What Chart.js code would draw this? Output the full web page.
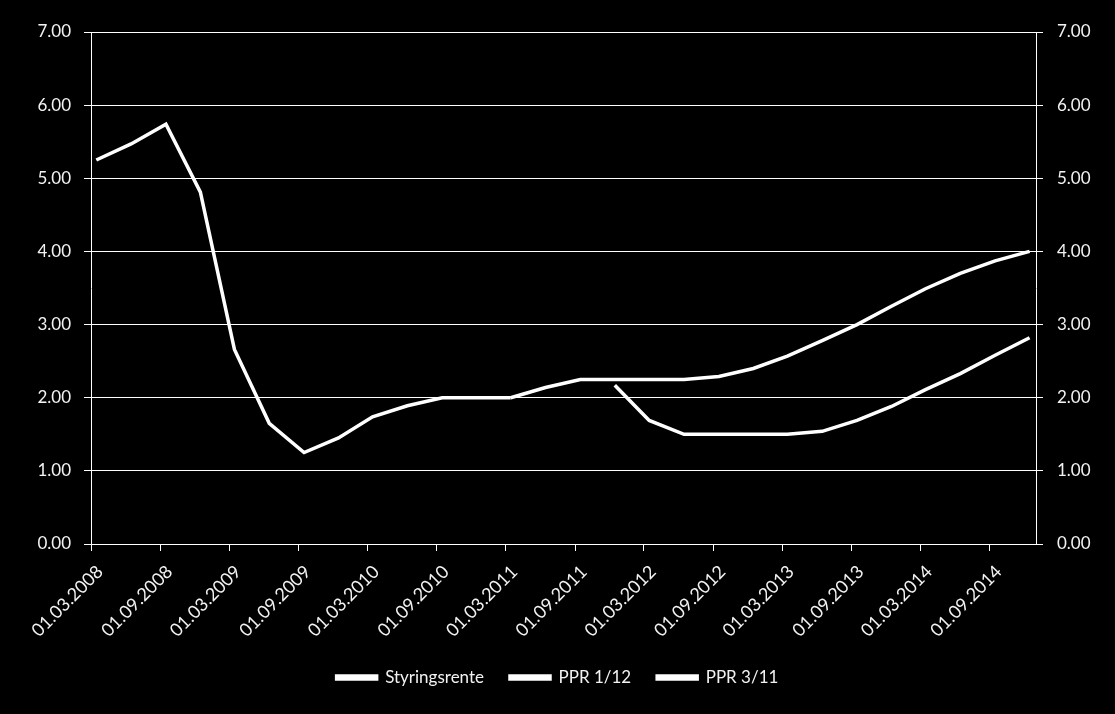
<!DOCTYPE html>
<html>
<head>
<meta charset="utf-8">
<script src="https://cdn.jsdelivr.net/npm/chart.js@4.4.1/dist/chart.umd.min.js"></script>
<style>
  html, body { margin: 0; padding: 0; background: #000; }
  #wrap { width: 1115px; height: 714px; }
</style>
</head>
<body>
<div id="wrap"><canvas id="rateChart" width="1115" height="714"></canvas></div>
<script>
// quarterly observation dates (dd.mm.yyyy)
const dates = [
    '15.03.2008', '15.06.2008', '15.09.2008', '15.12.2008',
    '15.03.2009', '15.06.2009', '15.09.2009', '15.12.2009',
    '15.03.2010', '15.06.2010', '15.09.2010', '15.12.2010',
    '15.03.2011', '15.06.2011', '15.09.2011', '15.12.2011',
    '15.03.2012', '15.06.2012', '15.09.2012', '15.12.2012',
    '15.03.2013', '15.06.2013', '15.09.2013', '15.12.2013',
    '15.03.2014', '15.06.2014', '15.09.2014', '15.12.2014'
];

// series values, null where the series has no value
const styringsrente = [5.25, 5.47, 5.74, 4.81, 2.66, 1.65, 1.25, 1.45, 1.74, 1.89, 2.00, 2.00, 2.00,
    null, null, null, null, null, null, null, null, null, null, null, null, null, null, null];
const ppr112 = [null, null, null, null, null, null, null, null, null, null, null, null, null, null, null,
    2.17, 1.69, 1.50, 1.50, 1.50, 1.50, 1.54, 1.69, 1.88, 2.11, 2.33, 2.58, 2.82];
const ppr311 = [null, null, null, null, null, null, null, null, null, null, null, null,
    2.00, 2.14, 2.25, 2.25, 2.25, 2.25, 2.29, 2.40, 2.57, 2.78, 3.00, 3.25, 3.49, 3.70, 3.87, 4.00];

// x axis tick labels
const tickLabels = [
    '01.03.2008', '01.09.2008', '01.03.2009', '01.09.2009', '01.03.2010',
    '01.09.2010', '01.03.2011', '01.09.2011', '01.03.2012', '01.09.2012',
    '01.03.2013', '01.09.2013', '01.03.2014', '01.09.2014'
];
const axisStart = '01.03.2008';
const axisEnd = '01.01.2015';

// day number from dd.mm.yyyy
function toDay(str) {
    const [d, m, y] = str.split('.').map(Number);
    return Date.UTC(y, m - 1, d) / 86400000;
}

function toPoints(values) {
    const pts = [];
    values.forEach((v, i) => {
        if (v !== null) pts.push({ x: toDay(dates[i]), y: v });
    });
    return pts;
}

const font = { family: 'Lato, "Open Sans", sans-serif', size: 17 };
const xFont = { family: 'Lato, "Open Sans", sans-serif', size: 18 };
const textColor = '#f2f2f2';

function lineSet(label, values) {
    return {
        label: label,
        data: toPoints(values),
        borderColor: '#ffffff',
        backgroundColor: '#ffffff',
        borderWidth: 3.5,
        pointRadius: 0,
        tension: 0,
        yAxisID: 'y'
    };
}

const ctx = document.getElementById('rateChart').getContext('2d');
const rateChart = new Chart(ctx, {
    type: 'line',
    data: {
        datasets: [
            lineSet('Styringsrente', styringsrente),
            lineSet('PPR 1/12', ppr112),
            lineSet('PPR 3/11', ppr311)
        ]
    },
    options: {
        responsive: false,
        animation: false,
        layout: { padding: { top: 32, left: 0, right: 0, bottom: 18 } },
        plugins: {
            legend: {
                position: 'bottom',
                labels: {
                    color: textColor,
                    font: font,
                    boxWidth: 40,
                    boxHeight: 3,
                    padding: 26
                }
            },
            tooltip: { enabled: false }
        },
        scales: {
            x: {
                type: 'linear',
                min: toDay(axisStart),
                max: toDay(axisEnd),
                afterBuildTicks: (scale) => {
                    scale.ticks = tickLabels.map(l => ({ value: toDay(l) }));
                },
                afterFit: (scale) => { scale.height = 99; },
                ticks: {
                    color: textColor,
                    font: xFont,
                    minRotation: 45,
                    maxRotation: 45,
                    padding: 10,
                    labelOffset: 9,
                    autoSkip: false,
                    callback: (value, index) => tickLabels[index]
                },
                grid: {
                    drawOnChartArea: false,
                    drawTicks: true,
                    tickLength: 7,
                    color: '#ffffff'
                },
                border: { display: true, color: '#ffffff', width: 1 }
            },
            y: {
                position: 'left',
                min: 0,
                max: 7,
                afterFit: (scale) => { scale.width = 91; },
                ticks: {
                    stepSize: 1,
                    color: textColor,
                    font: font,
                    padding: 13,
                    callback: (v) => v.toFixed(2)
                },
                grid: { color: '#ffffff', tickLength: 7, lineWidth: 1 },
                border: { display: true, color: '#ffffff', width: 1 }
            },
            y1: {
                position: 'right',
                min: 0,
                max: 7,
                afterFit: (scale) => { scale.width = 79; },
                ticks: {
                    stepSize: 1,
                    color: textColor,
                    font: font,
                    padding: 14,
                    callback: (v) => v.toFixed(2)
                },
                grid: { drawOnChartArea: false, color: '#ffffff', tickLength: 7 },
                border: { display: true, color: '#ffffff', width: 1 }
            }
        }
    }
});
</script>
</body>
</html>
